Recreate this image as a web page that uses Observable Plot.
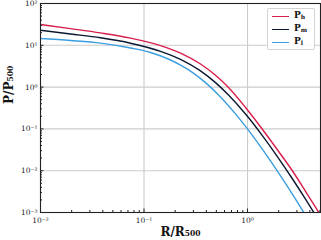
<!DOCTYPE html>
<html><head><meta charset="utf-8">
<script src="https://cdn.jsdelivr.net/npm/d3@7"></script>
<script src="https://cdn.jsdelivr.net/npm/@observablehq/plot@0.6"></script>
<style>
body{margin:0;background:#fff;}
#wrap{position:relative;width:321px;height:240px;font-family:"DejaVu Serif",serif;}
#legend{position:absolute;left:267px;top:8px;width:48px;height:42px;border:1px solid #d4d4d4;border-radius:2px;background:rgba(255,255,255,0.85);box-sizing:border-box;}
.row{position:absolute;left:4px;height:12px;display:flex;align-items:center;}
.sw{width:17px;height:0;border-top:1.4px solid;margin-right:5px;}
.lab{font-size:9px;font-weight:bold;color:#111;line-height:9px;}
.lab sub{font-size:6px;vertical-align:-1px;}
</style></head>
<body><div id="wrap"></div>
<script>
// Series: R/R500 and P/P500
const seriesNames = ["h", "m", "l"];
const seriesColors = ["#d81e4c", "#0c1730", "#3a9ee0"];

const rH = [0.01, 0.01949, 0.0380, 0.07406, 0.1444, 0.2253, 0.3515, 0.4906, 0.6553, 0.9565, 1.3962, 1.9498, 2.7212, 3.6340, 4.8849];
const pH = [31.45, 25.09, 19.80, 14.87, 9.836, 6.507, 3.570, 1.916, 0.9782, 0.3251, 0.09675, 0.03128, 0.009836, 0.003215, 0.001];

const rM = [0.01, 0.01949, 0.0380, 0.07406, 0.1444, 0.2253, 0.3515, 0.4906, 0.6553, 0.9565, 1.3962, 1.9498, 2.7212, 3.6340, 4.3716];
const pM = [22.85, 18.63, 15.12, 11.23, 7.185, 4.625, 2.441, 1.281, 0.6471, 0.2272, 0.06838, 0.02151, 0.006331, 0.002081, 0.001];

const rL = [0.01, 0.01949, 0.0380, 0.07406, 0.1156, 0.1803, 0.2253, 0.2814, 0.3928, 0.5246, 0.7657, 1.1176, 1.5606, 2.1786, 2.9091, 3.4990];
const pL = [14.54, 13.03, 11.29, 8.618, 6.726, 4.450, 3.360, 2.414, 1.281, 0.6507, 0.2285, 0.06876, 0.02163, 0.006366, 0.002092, 0.001];

const xTicks = [0.01, 0.1, 1];
const xMinor = [0.02,0.03,0.04,0.05,0.06,0.07,0.08,0.09,0.2,0.3,0.4,0.5,0.6,0.7,0.8,0.9,2,3,4,5];
const yTicks = [0.001, 0.01, 0.1, 1, 10, 100];
const yMinor = [0.002,0.003,0.004,0.005,0.006,0.007,0.008,0.009,
                0.02,0.03,0.04,0.05,0.06,0.07,0.08,0.09,
                0.2,0.3,0.4,0.5,0.6,0.7,0.8,0.9,
                2,3,4,5,6,7,8,9,
                20,30,40,50,60,70,80,90];
const xLabel = "R/R₅₀₀";
const yLabel = "P/P₅₀₀";

const supMap = {"-":"⁻","0":"⁰","1":"¹","2":"²","3":"³","4":"⁴"};
const fmt = d => "10" + String(Math.round(Math.log10(d))).split("").map(c => supMap[c]).join("");
const blank = () => "";

const series = [[rH,pH],[rM,pM],[rL,pL]];

const chart = Plot.plot({
  width: 321, height: 240,
  marginLeft: 40, marginRight: 1, marginTop: 3, marginBottom: 28,
  x: {type: "log", domain: [0.01, 5.07]},
  y: {type: "log", domain: [1e-3, 1e2]},
  style: {fontFamily: "DejaVu Serif", fontSize: "7.5px", color: "#222", background: "transparent"},
  marks: [
    Plot.gridX(xTicks, {stroke: "#cccccc", strokeOpacity: 1, strokeWidth: 1.1}),
    Plot.gridY(yTicks, {stroke: "#cccccc", strokeOpacity: 1, strokeWidth: 1.1}),
    ...series.map(([r, p], i) => Plot.line(r, {x: r, y: p, stroke: seriesColors[i], strokeWidth: 1.4, curve: "monotone-x", clip: true})),
    Plot.frame({stroke: "#222", strokeWidth: 1.1}),
    Plot.axisX(xTicks, {tickSize: 0, tickPadding: 5, tickFormat: fmt, label: null}),
    Plot.axisX(xTicks, {tickSize: -3.5, tickFormat: blank, label: null}),
    Plot.axisX(xMinor, {tickSize: -2, tickFormat: blank, label: null}),
    Plot.axisY(yTicks, {tickSize: 0, tickPadding: 3, tickFormat: fmt, label: null}),
    Plot.axisY(yTicks, {tickSize: -3.5, tickFormat: blank, label: null}),
    Plot.axisY(yMinor, {tickSize: -2, tickFormat: blank, label: null}),
    Plot.text([xLabel], {frameAnchor: "bottom", dy: 20, lineAnchor: "middle", fontSize: 12, fontWeight: "bold", fill: "#111"}),
    Plot.text([yLabel], {frameAnchor: "left", dx: -31, dy: -4, rotate: -90, lineAnchor: "middle", fontSize: 12, fontWeight: "bold", fill: "#111"})
  ]
});
const wrap = document.getElementById("wrap");
wrap.appendChild(chart);

const legend = document.createElement("div");
legend.id = "legend";
seriesNames.forEach((n, i) => {
  const row = document.createElement("div");
  row.className = "row";
  row.style.top = (1 + i * 13) + "px";
  row.innerHTML = `<div class="sw" style="border-color:${seriesColors[i]}"></div><span class="lab">P<sub>${n}</sub></span>`;
  legend.appendChild(row);
});
wrap.appendChild(legend);
</script>
</body></html>
